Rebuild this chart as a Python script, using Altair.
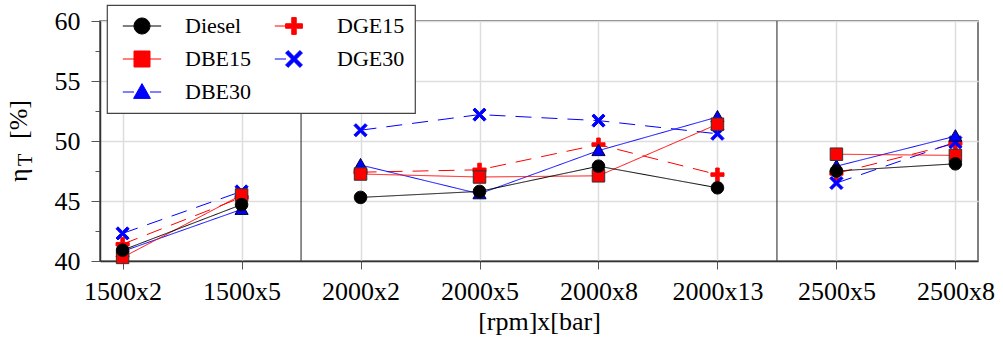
import math
import altair as alt
import pandas as pd

# ---------------- data ----------------
categories = ["1500x2", "1500x5", "2000x2", "2000x5", "2000x8", "2000x13", "2500x5", "2500x8"]
groups = [1500, 1500, 2000, 2000, 2000, 2000, 2500, 2500]
separators = [1.5, 5.5]

diesel = [40.9, 44.7, 45.3, 45.8, 47.9, 46.1, 47.5, 48.1]
dbe15 = [40.3, 45.5, 47.25, 47.0, 47.1, 51.4, 48.9, 48.8]
dbe30 = [40.8, 44.3, 48.0, 45.6, 49.2, 52.0, 47.9, 50.4]
dge15 = [41.4, 45.3, 47.4, 47.6, 49.7, 47.2, 47.3, 49.8]
dge30 = [42.3, 45.8, 50.9, 52.2, 51.7, 50.6, 46.5, 49.9]

legend_order = ["Diesel", "DBE15", "DBE30", "DGE15", "DGE30"]
draw_order = ["DGE15", "DGE30", "DBE30", "DBE15", "Diesel"]
values = {"Diesel": diesel, "DBE15": dbe15, "DBE30": dbe30, "DGE15": dge15, "DGE30": dge30}

y_title_parts = ["η", "T", "[%]"]
x_title = "[rpm]x[bar]"

rows = []
for s in draw_order:
    for i, v in enumerate(values[s]):
        rows.append({"series": s, "idx": i, "value": v, "group": groups[i]})
df = pd.DataFrame(rows)
sep_df = pd.DataFrame({"idx": separators})

# ---------------- styles ----------------
FONT = "Liberation Serif, Times New Roman, Times, serif"
line_color = {"Diesel": "#000000", "DBE15": "#ff0000", "DBE30": "#0000ff",
              "DGE15": "#ff0000", "DGE30": "#0000ff"}
fill_color = {"Diesel": "#000000", "DBE15": "#ff0000", "DBE30": "#0000ff",
              "DGE15": "#ff0000", "DGE30": "#0000ff"}
edge_color = {"Diesel": "#000000", "DBE15": "#333333", "DBE30": "#000033",
              "DGE15": "#ff0000", "DGE30": "#0000ff"}
dash = {"Diesel": [1, 0], "DBE15": [1, 0], "DBE30": [1, 0],
        "DGE15": [16, 10], "DGE30": [16, 10]}


def poly(pts):
    return "M" + "L".join(f"{x:.3f},{y:.3f}" for x, y in pts) + "Z"


def plus_pts(w, L):
    return [(-w, -L), (w, -L), (w, -w), (L, -w), (L, w), (w, w),
            (w, L), (-w, L), (-w, w), (-L, w), (-L, -w), (-w, -w)]


def rot45(pts):
    r = 1 / math.sqrt(2)
    return [((x - y) * r, (x + y) * r) for x, y in pts]


circle_p = "M1,0A1,1,0,1,1,-1,0A1,1,0,1,1,1,0Z"
square_p = "M-1,-1L1,-1L1,1L-1,1Z"
tri_p = "M0,-1.05L1.05,0.8L-1.05,0.8Z"
plus_p = poly(plus_pts(0.28, 1.05))
xw = 0.22
x_p = poly(rot45(plus_pts(xw, 1.05 * math.sqrt(2) - xw)))
marker = {"Diesel": circle_p, "DBE15": square_p, "DBE30": tri_p, "DGE15": plus_p, "DGE30": x_p}

both = "M-2.4,0L-1,0M1,0L2.4,0"
left = "M-2.4,0L-1,0"
legend_path = {
    "Diesel": both + circle_p,
    "DBE15": both + square_p,
    "DBE30": both + tri_p,
    "DGE15": left + plus_p,
    "DGE30": left + x_p,
}

# ---------------- scales / axes ----------------
label_expr = "[" + ",".join(f"'{c}'" for c in categories) + "][datum.value]"
x_axis = alt.Axis(
    values=list(range(len(categories))), labelExpr=label_expr, title=x_title,
    labelFont=FONT, labelFontSize=26, labelColor="black", labelPadding=9,
    labelFlush=False, labelOverlap=False,
    titleFont=FONT, titleFontSize=26, titleFontWeight="normal", titleColor="black",
    titlePadding=4,
    tickSize=8, tickColor="#555555", tickWidth=1,
    domainColor="#333333", domainWidth=1.5,
    grid=True, gridColor="#dddddd", gridWidth=1.5,
)
y_axis = alt.Axis(
    values=[40, 42.5, 45, 47.5, 50, 52.5, 55, 57.5, 60],
    labelExpr="datum.value % 5 === 0 ? datum.label : ''",
    title=None,
    labelFont=FONT, labelFontSize=26, labelColor="black", labelPadding=11,
    tickSize={"condition": {"test": "datum.value % 5 === 0", "value": 9}, "value": 5},
    tickColor="#555555", tickWidth=1,
    domainColor="#333333", domainWidth=1.5,
    grid=True, gridColor="#dddddd", gridWidth=1.5,
    gridOpacity={"condition": {"test": "datum.value % 5 === 0", "value": 1}, "value": 0},
)
X = alt.X("idx:Q", scale=alt.Scale(domain=[-0.19, 7.19], nice=False, zero=False), axis=x_axis)
Y = alt.Y("value:Q", scale=alt.Scale(domain=[40, 60], nice=False, zero=False), axis=y_axis)


def sc(m):
    return alt.Scale(domain=legend_order, range=[m[k] for k in legend_order])


# ---------------- layers ----------------
rules = alt.Chart(sep_df).mark_rule(color="#444444", strokeWidth=1.2).encode(x=X)

lines = alt.Chart(df).mark_line(strokeWidth=1).encode(
    x=X, y=Y,
    color=alt.Color("series:N", scale=sc(line_color), legend=None),
    strokeDash=alt.StrokeDash("series:N", scale=sc(dash), legend=None),
    detail="group:N",
)

points = alt.Chart(df).mark_point(filled=True, size=156, strokeWidth=1, opacity=1).encode(
    x=X, y=Y,
    color=alt.Color("series:N", scale=sc(fill_color), legend=None),
    stroke=alt.Stroke("series:N", scale=sc(edge_color), legend=None),
    shape=alt.Shape("series:N", scale=sc(marker), legend=None),
)

leg = alt.Legend(
    orient="none", legendX=7, legendY=-16, columns=2, title=None,
    padding=10, strokeColor="#444444", fillColor="white",
    labelFont=FONT, labelFontSize=22, labelColor="black", labelLimit=0,
    symbolSize=256, symbolStrokeWidth=1, symbolOffset=14, labelOffset=32,
    rowPadding=11, columnPadding=18,
)
legend_layer = alt.Chart(df).transform_filter("false").mark_point(
    filled=True, size=256, strokeWidth=1, opacity=1
).encode(
    x=X, y=Y,
    color=alt.Color("series:N", scale=sc(fill_color), legend=leg),
    stroke=alt.Stroke("series:N", scale=sc(line_color), legend=leg),
    shape=alt.Shape("series:N", scale=sc(legend_path), legend=leg),
)

txt_df = pd.DataFrame({"t": [0]})
t_eta = alt.Chart(txt_df).mark_text(
    text=y_title_parts[0], font=FONT, fontSize=26, angle=270, align="left",
    baseline="alphabetic", color="black"
).encode(x=alt.value(-73), y=alt.value(161))
t_sub = alt.Chart(txt_df).mark_text(
    text=y_title_parts[1], font=FONT, fontSize=20, angle=270, align="left",
    baseline="alphabetic", color="black"
).encode(x=alt.value(-68), y=alt.value(145))
t_pct = alt.Chart(txt_df).mark_text(
    text=y_title_parts[2], font=FONT, fontSize=26, angle=270, align="left",
    baseline="alphabetic", color="black"
).encode(x=alt.value(-73), y=alt.value(118))

chart = alt.layer(
    rules, lines, points, legend_layer, t_eta, t_sub, t_pct
).resolve_scale(
    color="independent", stroke="independent", shape="independent", strokeDash="independent"
).properties(
    width=878, height=240,
    autosize=alt.AutoSizeParams(type="none"),
    padding={"left": 100, "top": 21, "right": 25, "bottom": 81},
    background="white",
).configure_view(
    stroke="#555555", strokeWidth=1.5
).configure_legend(
    strokeWidth=1.2, cornerRadius=0
)

chart.save("out.html", embed_options={"renderer": "svg", "actions": False})
